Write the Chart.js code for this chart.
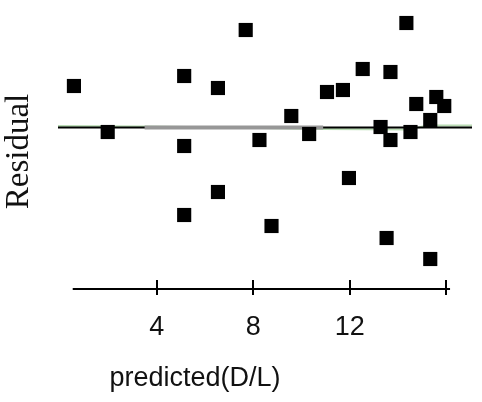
<!DOCTYPE html>
<html>
<head>
<meta charset="utf-8">
<style>
    html, body { margin: 0; padding: 0; background: #fff; }
    #wrap { width: 482px; height: 402px; }
</style>
<script src="https://cdn.jsdelivr.net/npm/chart.js@4.4.1/dist/chart.umd.min.js"></script>
</head>
<body>
<div id="wrap"><canvas id="myChart" width="482" height="402"></canvas></div>
<script>
// residuals against predicted values
const predicted = [0.57, 1.97, 5.14, 5.14, 5.14, 6.54, 6.54, 7.69, 8.26, 8.76, 9.58, 10.32, 11.06, 11.72, 11.97,
    12.54, 13.28, 13.53, 13.69, 13.69, 14.35, 14.52, 14.76, 15.34, 15.34, 15.59, 15.92];
const residual = [0.83, -0.09, 1.03, -0.37, -1.75, 0.79, -1.29, 1.95, -0.25, -1.97, 0.23, -0.13, 0.71, 0.75, -1.01,
    1.17, 0.01, -2.21, 1.11, -0.25, 2.09, -0.09, 0.47, 0.15, -2.63, 0.61, 0.43];

// smoother (green) and the grey segment over the zero line
const smoothX = [-0.09, 3.5, 7, 10.9, 14.5, 15.2, 17.07];
const smoothY = [0.03, 0.02, 0, -0.03, -0.04, 0.04, 0.04];
const greyX = [3.5, 10.9];
const greyY = [0, 0];

const tickLabels = [4, 8, 12];
const tickMarks = [4, 8, 12, 16];
const axisFrom = 0.52;
const axisTo = 16.16;

const xMin = -0.09, xMax = 17.07;
const yMin = -3.23, yMax = 2.27;

function pts(xs, ys) {
    return xs.map(function(x, i) { return {x: x, y: ys[i]}; });
}

let axisPlugin = {
    id: 'axisPlugin',
    afterDraw: function(chart) {
        let ctx = chart.ctx;
        let xs = chart.scales.x;
        let y = chart.chartArea.bottom;
        ctx.save();
        ctx.strokeStyle = '#000';
        ctx.lineWidth = 2;
        ctx.beginPath();
        ctx.moveTo(xs.getPixelForValue(axisFrom), y);
        ctx.lineTo(xs.getPixelForValue(axisTo), y);
        tickMarks.forEach(function(v) {
            let px = Math.round(xs.getPixelForValue(v));
            ctx.moveTo(px, y - 9);
            ctx.lineTo(px, y + 6);
        });
        ctx.stroke();
        // x title
        ctx.fillStyle = '#111';
        ctx.font = '27px "Liberation Sans", Arial, sans-serif';
        ctx.textAlign = 'center';
        ctx.textBaseline = 'alphabetic';
        ctx.fillText('predicted(D/L)', 195, 386);
        ctx.restore();
    }
};

function chart() {
    let ctx = document.getElementById('myChart');
    let myChart = new Chart(ctx, {
        type: 'scatter',
        data: {
            datasets: [{
                label: 'Residual',
                data: pts(predicted, residual),
                pointStyle: 'rect',
                pointRadius: 10,
                pointBorderWidth: 0,
                backgroundColor: '#000',
                borderColor: '#000',
                order: 0
            }, {
                label: 'grey',
                data: pts(greyX, greyY),
                showLine: true,
                pointRadius: 0,
                borderColor: '#979797',
                borderWidth: 4,
                order: 1
            }, {
                label: 'zero',
                data: [{x: xMin, y: 0}, {x: xMax, y: 0}],
                showLine: true,
                pointRadius: 0,
                borderColor: '#000',
                borderWidth: 2,
                order: 2
            }, {
                label: 'smooth',
                data: pts(smoothX, smoothY),
                showLine: true,
                pointRadius: 0,
                borderColor: '#b9dcb4',
                borderWidth: 2,
                order: 3
            }]
        },
        options: {
            responsive: false,
            animation: false,
            layout: { padding: { top: 14, right: 7, bottom: 0, left: 0 } },
            plugins: { legend: { display: false }, tooltip: { enabled: false } },
            scales: {
                x: {
                    type: 'linear',
                    min: xMin,
                    max: xMax,
                    grid: { display: false },
                    border: { display: false },
                    afterBuildTicks: function(scale) {
                        scale.ticks = tickLabels.map(function(v) { return {value: v}; });
                    },
                    afterFit: function(scale) { scale.height = 113; },
                    ticks: {
                        padding: 14,
                        maxRotation: 0,
                        autoSkip: false,
                        color: '#111',
                        font: { family: '"Liberation Sans", Arial, sans-serif', size: 27 }
                    }
                },
                y: {
                    min: yMin,
                    max: yMax,
                    grid: { display: false },
                    border: { display: false },
                    ticks: { display: false },
                    afterFit: function(scale) { scale.width = 58; },
                    title: {
                        display: true,
                        text: 'Residual',
                        color: '#111',
                        padding: { top: 0, bottom: 0 },
                        font: { family: '"Liberation Serif", "Times New Roman", serif', size: 33 }
                    }
                }
            }
        },
        plugins: [axisPlugin]
    });
}

chart();
</script>
</body>
</html>
